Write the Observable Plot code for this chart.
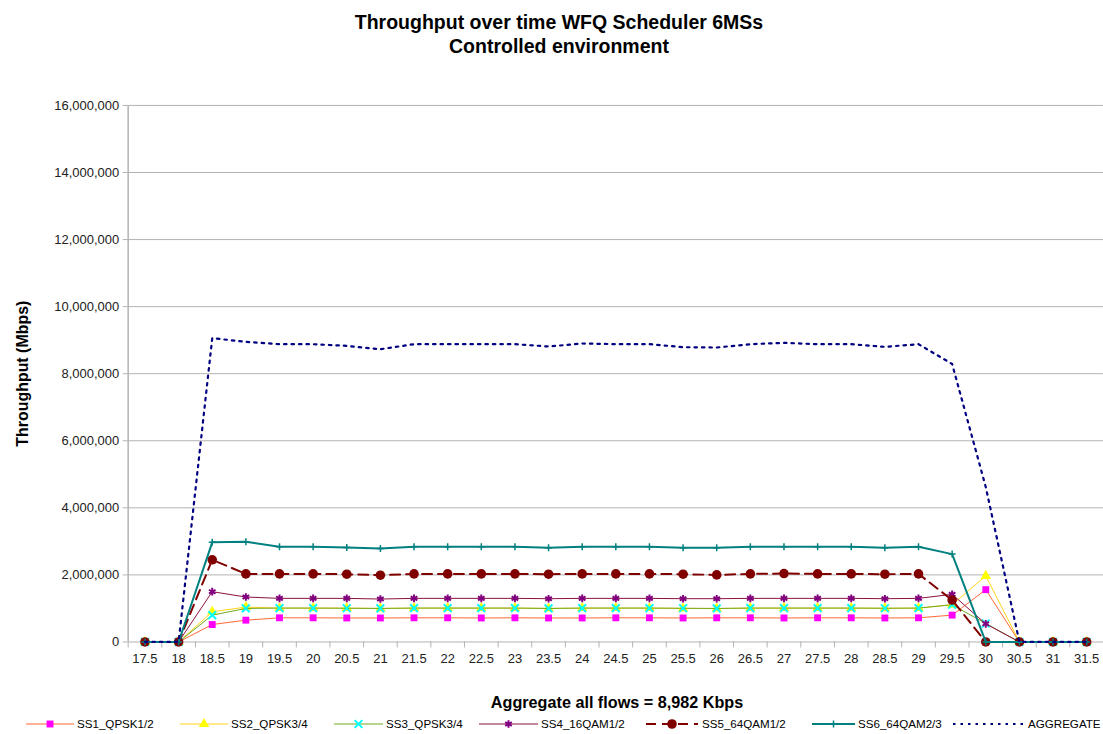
<!DOCTYPE html>
<html>
<head>
<meta charset="utf-8">
<script src="https://cdn.jsdelivr.net/npm/d3@7"></script>
<script src="https://cdn.jsdelivr.net/npm/@observablehq/plot@0.6"></script>
<style>
  html, body { margin: 0; padding: 0; background: #fff; }
  body { width: 1103px; height: 734px; overflow: hidden; position: relative; font-family: "Liberation Sans", Arial, sans-serif; }
  #title { position: absolute; left: 0; top: 10px; width: 1118px; text-align: center; font-weight: bold; font-size: 19.5px; line-height: 24px; color: #000; }
  #chart { position: absolute; left: 0; top: 80px; }
  #footer { position: absolute; left: 128px; width: 978px; top: 693px; text-align: center; font-weight: bold; font-size: 16.2px; color: #000; }
  #legend { position: absolute; left: 0; top: 714px; width: 1103px; height: 20px; }
  .lt { position: absolute; top: 3px; font-size: 11.6px; color: #000; white-space: nowrap; }
</style>
</head>
<body>
<div id="title">Throughput over time WFQ Scheduler 6MSs<br>Controlled environment</div>
<div id="chart"></div>
<div id="footer">Aggregate all flows = 8,982 Kbps</div>
<div id="legend"></div>
<script>
// ---- data ----
const times = [17.5, 18, 18.5, 19, 19.5, 20, 20.5, 21, 21.5, 22, 22.5, 23, 23.5, 24, 24.5, 25, 25.5, 26, 26.5, 27, 27.5, 28, 28.5, 29, 29.5, 30, 30.5, 31, 31.5];
const ss1 = [0, 0, 520000, 650000, 720000, 720000, 715000, 715000, 720000, 720000, 715000, 720000, 715000, 715000, 720000, 720000, 715000, 720000, 720000, 715000, 720000, 720000, 715000, 720000, 800000, 1560000, 0, 0, 0];
const ss2 = [0, 0, 900000, 1040000, 1010000, 1010000, 1010000, 1000000, 1010000, 1010000, 1010000, 1010000, 1000000, 1010000, 1010000, 1010000, 1000000, 995000, 1010000, 1010000, 1010000, 1010000, 1005000, 1010000, 1110000, 1970000, 0, 0, 0];
const ss3 = [0, 0, 800000, 1000000, 1010000, 1010000, 1005000, 1000000, 1010000, 1010000, 1010000, 1010000, 1000000, 1010000, 1010000, 1010000, 1005000, 1000000, 1010000, 1010000, 1010000, 1010000, 1005000, 1010000, 1110000, 550000, 0, 0, 0];
const ss4 = [0, 0, 1500000, 1340000, 1300000, 1300000, 1300000, 1280000, 1300000, 1300000, 1300000, 1300000, 1290000, 1300000, 1300000, 1300000, 1290000, 1290000, 1300000, 1300000, 1300000, 1300000, 1290000, 1300000, 1420000, 540000, 0, 0, 0];
const ss5 = [0, 0, 2450000, 2030000, 2030000, 2030000, 2020000, 1990000, 2030000, 2030000, 2030000, 2030000, 2020000, 2030000, 2030000, 2030000, 2020000, 2000000, 2030000, 2040000, 2030000, 2030000, 2020000, 2030000, 1250000, 0, 0, 0, 0];
const ss6 = [0, 0, 2970000, 2990000, 2840000, 2840000, 2820000, 2790000, 2840000, 2840000, 2840000, 2840000, 2810000, 2840000, 2840000, 2840000, 2810000, 2810000, 2840000, 2840000, 2840000, 2840000, 2810000, 2840000, 2620000, 0, 0, 0, 0];
const aggregate = [0, 0, 9060000, 8950000, 8880000, 8880000, 8830000, 8730000, 8880000, 8880000, 8880000, 8880000, 8810000, 8900000, 8880000, 8880000, 8790000, 8780000, 8880000, 8920000, 8880000, 8880000, 8800000, 8880000, 8290000, 4620000, 0, 0, 0];
const seriesNames = ["SS1_QPSK1/2", "SS2_QPSK3/4", "SS3_QPSK3/4", "SS4_16QAM1/2", "SS5_64QAM1/2", "SS6_64QAM2/3", "AGGREGATE"];
const yTicks = [0, 2000000, 4000000, 6000000, 8000000, 10000000, 12000000, 14000000, 16000000];

// ---- styles ----
const styles = [
  {line: "#ff6633", width: 1, dash: null, symbol: "square", fill: "#ff00ff", stroke: "none", r: 3.9},
  {line: "#ffd21a", width: 1, dash: null, symbol: "triangle", fill: "#ffff00", stroke: "none", r: 3.9},
  {line: "#70a81e", width: 1, dash: null, symbol: "times", fill: "none", stroke: "#00ffff", r: 3.6, sw: 2},
  {line: "#8c1040", width: 1, dash: null, symbol: "asterisk", fill: "none", stroke: "#800080", r: 3.6, sw: 2},
  {line: "#800000", width: 2, dash: "10,6", symbol: "circle", fill: "#800000", stroke: "none", r: 4.8},
  {line: "#008080", width: 2, dash: null, symbol: "plus", fill: "none", stroke: "#008080", r: 2.4, sw: 1.5},
  {line: "#000080", width: 2.2, dash: "2.5,5", symbol: null}
];
const values = [ss1, ss2, ss3, ss4, ss5, ss6, aggregate];
const series = values.map((vals, i) => times.map((t, j) => ({t, v: vals[j], s: seriesNames[i]})));

const bounds = [times[0] - 0.25, ...times.map(t => t + 0.25)];

const marks = [
  Plot.gridY(yTicks, {stroke: "#b3b3b3", strokeOpacity: 1, strokeWidth: 1}),
  Plot.ruleX([bounds[0]], {stroke: "#b3b3b3", strokeWidth: 1.5}),
  Plot.axisY({ticks: yTicks, tickSize: 5, tickPadding: 4, tickFormat: d3.format(","), stroke: "#b3b3b3", fill: "#222",
    label: "Throughput (Mbps)", labelAnchor: "center", labelArrow: "none", labelOffset: 112}),
  Plot.axisX({ticks: bounds, tickSize: 6, tickFormat: () => "", stroke: "#b3b3b3"}),
  Plot.axisX({ticks: times, tickSize: 0, tickPadding: 12, tickFormat: d => String(d), fill: "#222", label: null})
];
series.forEach((rows, i) => {
  const st = styles[i];
  marks.push(Plot.line(rows, {x: "t", y: "v", stroke: st.line, strokeWidth: st.width, strokeDasharray: st.dash}));
  if (st.symbol) {
    marks.push(Plot.dot(rows, {x: "t", y: "v", symbol: st.symbol, r: st.r, fill: st.fill, stroke: st.stroke, strokeWidth: st.sw || 1}));
  }
});

const chart = Plot.plot({
  width: 1106,
  height: 600,
  marginLeft: 128,
  marginRight: 0,
  marginTop: 25,
  marginBottom: 37,
  style: {fontFamily: "Liberation Sans, Arial, sans-serif", fontSize: "13px", background: "#fff", overflow: "visible"},
  x: {domain: [bounds[0], bounds[bounds.length - 1]], label: null},
  y: {domain: [0, 16000000], label: "Throughput (Mbps)"},
  marks
});
chart.querySelectorAll("g[aria-label='y-axis label'] text, g[aria-label='y-axis label']").forEach(el => {
  el.style.fontWeight = "bold"; el.style.fontSize = "16px"; el.setAttribute("fill", "#000");
});
document.getElementById("chart").appendChild(chart);

// ---- legend ----
const legendPos = [[26, 74, 77], [180, 228, 231], [334, 383, 386], [479, 538, 541], [646, 698, 702], [812, 855, 858], [953, 1025, 1028]];
const legend = document.getElementById("legend");
seriesNames.forEach((name, i) => {
  const st = styles[i];
  const [x0, x1, tx] = legendPos[i];
  const svg = d3.create("svg").attr("width", x1 - x0).attr("height", 20)
    .style("position", "absolute").style("left", x0 + "px").style("top", "0px");
  svg.append("line").attr("x1", 0).attr("x2", x1 - x0).attr("y1", 10).attr("y2", 10)
    .attr("stroke", st.line).attr("stroke-width", st.width).attr("stroke-dasharray", st.dash);
  if (st.symbol) {
    const sym = {square: d3.symbolSquare, triangle: d3.symbolTriangle, times: d3.symbolTimes, asterisk: d3.symbolAsterisk, circle: d3.symbolCircle, plus: d3.symbolPlus}[st.symbol];
    svg.append("path").attr("transform", `translate(${(x1 - x0) / 2},10)`)
      .attr("d", d3.symbol(sym, Math.PI * st.r * st.r)())
      .attr("fill", st.fill).attr("stroke", st.stroke).attr("stroke-width", st.sw || 1);
  }
  legend.appendChild(svg.node());
  const t = document.createElement("div");
  t.className = "lt"; t.style.left = tx + "px"; t.textContent = name;
  legend.appendChild(t);
});
</script>
</body>
</html>
